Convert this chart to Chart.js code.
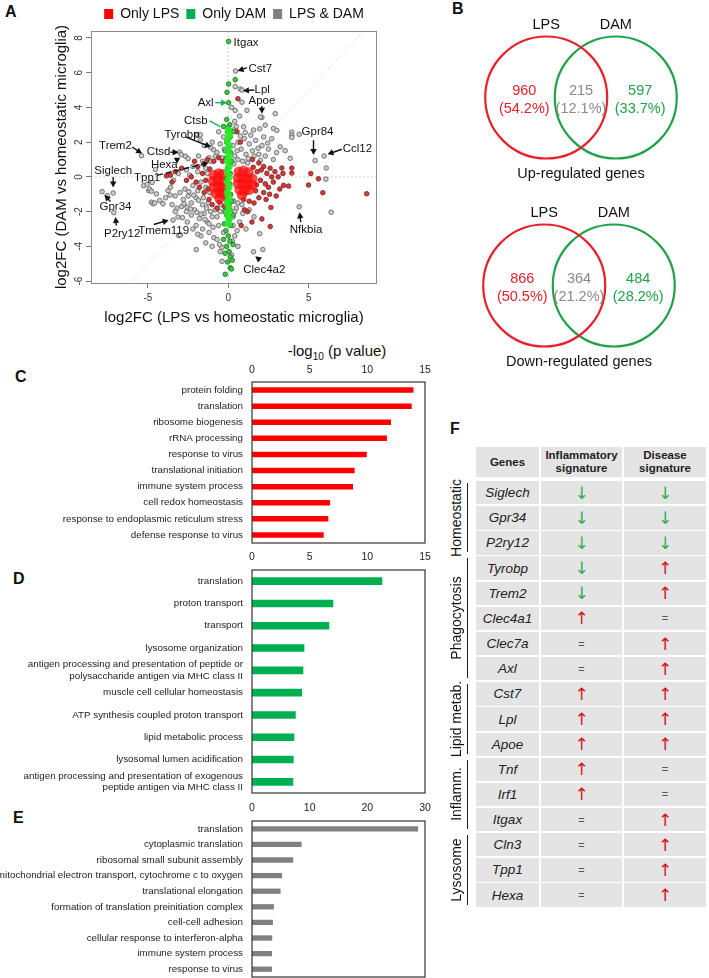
<!DOCTYPE html>
<html><head><meta charset="utf-8">
<script src="https://cdn.jsdelivr.net/npm/chart.js@4.4.0/dist/chart.umd.min.js"></script>
<style>
body{margin:0;background:#fff;width:709px;height:978px;position:relative;overflow:hidden;font-family:"Liberation Sans",Arial,sans-serif;color:#111;}
canvas{position:absolute;}
.plabel{position:absolute;font-weight:bold;font-size:16px;line-height:16px;}
.cell{position:absolute;background:#e4e4e4;display:flex;align-items:center;justify-content:center;text-align:center;}
.grp{position:absolute;font-size:14px;white-space:nowrap;transform:translate(-50%,-50%) rotate(-90deg);}
.gline{position:absolute;width:1.5px;background:#222;}
</style></head><body>
<div class="plabel" style="left:5px;top:4px">A</div>
<div class="plabel" style="left:452px;top:1px">B</div>
<div class="plabel" style="left:15px;top:369px">C</div>
<div class="plabel" style="left:13px;top:571px">D</div>
<div class="plabel" style="left:13px;top:810px">E</div>
<div class="plabel" style="left:450px;top:421px">F</div>
<div style="position:absolute;left:237px;top:342px;width:200px;text-align:center;font-size:15px;">-log<sub style="font-size:10px">10</sub> (p value)</div>

<canvas id="cA" width="470" height="330" style="left:0;top:0;width:470px;height:330px"></canvas>
<canvas id="cVup" width="242" height="170" style="left:460px;top:15px;width:242px;height:170px"></canvas>
<canvas id="cVdn" width="242" height="170" style="left:458px;top:203px;width:242px;height:170px"></canvas>
<canvas id="cC" width="440" height="210" style="left:0;top:340px;width:440px;height:210px"></canvas>
<canvas id="cD" width="440" height="250" style="left:0;top:548px;width:440px;height:250px"></canvas>
<canvas id="cE" width="440" height="182" style="left:0;top:796px;width:440px;height:182px"></canvas>
<div id="tableF"></div>

<script>
// ---------------- DATA ----------------
// Panel A: log2FC (LPS) , log2FC (DAM)
const lpsAndDamPts = [
[-7.85,-0.85],[-7.53,-1.08],[-7.16,-0.93],[-7.12,-2.06],
[-5.4,1.22],[-4.53,0.43],[-5.26,-0.51],[-5.05,-0.42],[-4.74,-0.32],[-4.95,-0.79],[-4.89,-0.7],[-4.78,-0.83],[-4.47,-0.98],[-4.78,-1.46],[-4.68,-1.55],[-4.58,-1.5],[-4.27,-1.36],[-4.06,-1.55],[-3.75,-0.79],[-3.9,-1.2],[-3.62,-1.05],[-3.44,-2.49],[-3.13,-2.31],[-3.09,-3.38],[-2.98,-3.34],[-1.99,-4.19],
[-3.02,1.42],[-2.92,1.28],[-2.67,1.19],[-2.5,1.05],[-1.94,2.44],[-1.74,2.42],[-1.74,2.13],[-1.5,1.8],[-0.91,1.56],[-1.53,0.72],[-1.2,1.1],[-2.2,0.6],[-2.6,0.4],[-3.1,0.2],[-3.4,-0.2],[-3.6,-0.6],[-3.3,-1.1],[-3.0,-0.9],[-2.8,-1.3],[-2.5,-1.1],[-2.3,-1.5],[-2.0,-1.2],[-3.5,-1.6],[-3.2,-1.8],[-2.9,-1.7],[-2.6,-2.0],[-2.3,-2.2],[-2.1,-1.9],[-1.8,-2.4],[-1.5,-2.1],[-1.3,-2.6],[-1.0,-2.3],[-2.0,-2.8],[-1.6,-3.0],[-1.2,-3.2],[-0.9,-3.5],[-1.7,-3.4],[-1.4,-3.8],[-0.6,-2.8],[-0.8,-1.9],[-1.9,-0.8],[-2.2,-0.5],[-1.7,-0.3],[-2.4,0.1],[-1.9,0.3],[-1.4,0.5],[-1.1,0.9],[-0.8,1.2],[-0.5,1.9],[-0.3,2.3],[-0.6,2.6],[-1.0,2.0],[-0.39,-4.06],[-0.39,-4.86],[-0.55,-3.9],[-0.3,-3.2],
[-2.7,-0.7],[-2.45,-0.85],[-2.15,-1.05],[-1.85,-1.35],[-1.6,-1.6],[-1.35,-1.8],[-1.1,-2.0],[-2.75,-1.55],[-2.55,-1.75],[-2.35,-1.85],[-1.95,-2.05],[-1.7,-2.15],[-1.45,-2.45],[-1.2,-2.7],[-0.95,-2.9],[-0.7,-2.3],[-0.5,-2.0],[-0.45,-1.6],[-1.25,-1.5],[-1.55,-1.2],[-1.4,-0.6],[-1.15,-0.9],[-1.3,0.2],[-1.6,0.9],[-1.85,1.2],[-0.7,1.4],[-0.4,1.1],[-0.25,1.6],[-1.1,1.7],[-3.3,-2.0],[-2.85,-2.35],[-2.55,-2.6],[-2.2,-3.0],[-1.9,-3.3],[-0.7,-3.6],[-0.5,-4.3],[-1.0,-4.0],
[0.45,6.1],[0.43,5.2],[0.75,5.06],[0.85,5.0],[0.85,4.3],[1.16,3.83],[0.43,3.83],[2.09,3.42],[2.0,3.45],[2.92,3.64],[0.33,2.7],[0.95,2.89],[1.57,2.7],[2.3,2.98],[2.81,2.79],[1.95,2.77],[3.02,2.68],[3.95,2.58],[3.95,2.4],[3.95,2.27],[4.41,2.45],[5.4,0.94],[5.96,1.2],[6.09,0.51],[6.07,-0.13],[4.41,-1.72],[6.4,-2.04],[3.85,1.07],[3.54,1.51],[3.23,1.73],[1.95,-3.27],[1.57,-4.31],[2.15,-4.18],[0.6,2.0],[1.0,2.2],[1.3,1.9],[1.7,2.1],[2.1,1.8],[2.5,1.6],[2.7,2.2],[1.5,1.5],[1.9,1.3],[2.3,1.2],[0.8,1.6],[1.1,1.3],[2.8,1.0],[3.0,1.4],[0.5,-1.8],[0.9,-2.1],[1.3,-1.9],[0.7,-2.6],[1.1,-3.0],[0.4,-3.4],[0.6,-4.0],[1.6,-2.3],[0.3,-2.3],[0.2,-4.5],[0.4,3.2],[0.7,3.5],[0.2,4.0],
[0.4,1.2],[0.6,1.0],[0.9,0.9],[1.2,0.8],[0.35,0.75],[0.55,1.5],[1.4,2.4],[1.85,1.65],[2.2,2.3],[2.45,1.95],[1.25,1.05],[1.6,1.2],[2.0,0.95],[0.3,1.8],[0.75,2.35],[1.05,2.55],[0.5,2.9],[0.35,-1.4],[0.6,-1.5],[0.4,-2.0],[0.85,-1.6],[0.3,-2.8],[0.55,-3.1],[0.25,-3.7]
];
const lpsOnlyPts = [
[-3.85,0.06],[-3.6,0.1],[-3.5,-0.3],[-3.3,0.3],[-2.9,0.5],[-2.6,-0.2],[-2.3,0.0],[-2.0,-0.3],[-1.9,0.6],[-1.6,0.2],[-1.8,-0.6],[-1.5,-0.9],[-1.2,-1.3],[-1.0,-1.6],[-0.7,-1.8],[-2.1,0.9],[-1.3,1.0],[-0.9,0.9],[-1.4,-0.2],[-1.15,0.45],[-1.25,-0.7],[-0.55,-1.45],[-0.25,-1.7],[-0.35,0.9],[-0.6,1.1],
[0.6,4.5],[0.54,2.6],[0.75,2.0],
[1.5,1.0],[1.9,0.8],[2.2,0.6],[2.4,0.2],[2.6,0.5],[2.9,0.3],[3.1,0.0],[2.8,-0.3],[2.5,-0.6],[2.2,-0.9],[1.9,-1.2],[1.6,-1.5],[1.3,-1.4],[2.0,-0.2],[1.8,0.3],[3.33,0.51],[3.95,0.51],[3.95,0.22],[3.44,-0.49],[3.75,-0.53],[2.98,-1.1],[2.57,-1.0],[2.65,-1.76],[2.09,-2.42],[2.61,-2.86],[1.47,-2.6],[5.13,0.19],[5.61,-0.11],[4.99,-0.47],[5.88,-0.91],[8.61,-0.97],[1.2,-2.0],[0.8,-2.8],[1.0,-1.9],[3.4,0.2],[3.2,-0.7],[2.3,-0.4],[2.7,0.0],[1.7,-0.8],[2.05,0.4],[1.55,0.55],[1.75,-0.45],[0.95,-1.3],[2.35,-1.3]
];
const lpsOnlyDense = [
[-0.9,0.1],[-0.6,0.2],[-0.35,0.15],[-0.95,-0.25],[-0.65,-0.2],[-0.35,-0.25],[-0.9,-0.6],[-0.6,-0.55],[-0.35,-0.6],[-0.8,-0.95],[-0.5,-0.9],[-0.3,-1.0],[-0.55,-1.25],
[0.65,0.3],[0.95,0.35],[1.25,0.25],[0.6,-0.05],[0.9,-0.05],[1.2,-0.1],[1.5,-0.1],[0.6,-0.4],[0.9,-0.4],[1.2,-0.45],[1.5,-0.45],[0.7,-0.75],[1.0,-0.8],[1.3,-0.75],[0.85,-1.05]
];
const damOnlyPts = [
[0.02,7.8],[0.43,5.6],[0.02,5.35],[-0.08,4.87],[0.02,4.27],[-0.1,3.3],[0.1,3.0],[0.0,2.85],[-0.05,2.6],[0.12,2.3],[-0.1,2.0],[0.05,1.7],[0.15,1.4],[-0.12,1.1],[0.08,0.8],[-0.05,0.5],[0.12,0.2],[-0.1,-0.1],[0.1,-0.4],[-0.05,-0.7],[0.15,-1.0],[-0.12,-1.3],[0.05,-1.6],[0.1,-1.9],[-0.1,-2.2],[0.05,-2.5],[0.15,-2.8],[-0.15,-3.1],[0.0,-3.4],[0.1,-3.7],[-0.1,-4.0],[0.05,-4.3],[0.12,-4.6],[-0.05,-4.9],[0.12,-5.23],[-0.19,-5.61],[-0.3,-3.6],[0.3,-3.9],[-0.25,-2.7],[0.3,-2.2],[-0.3,2.9],[0.3,2.6],[0.2,-5.3],[-0.2,-4.4],[0.25,-4.8],[-0.22,-2.0],[0.22,-1.4],[-0.2,1.5],[0.22,0.9]
];
const damOnlyDense = [
[0.0,2.7],[0.05,2.4],[-0.05,2.1],[0.05,1.8],[-0.05,1.5],[0.05,1.2],[-0.05,0.9],[0.05,0.6],[-0.05,0.3],[0.05,0.0],[-0.05,-0.3],[0.05,-0.6],[-0.05,-0.9],[0.05,-1.2],[-0.05,-1.5],[0.05,-1.8],[-0.05,-2.1],[0.05,-2.4],[0.0,-2.7]
];
const seriesNames = ['Only LPS','Only DAM','LPS & DAM'];
const xTicksA = [-5,0,5];
const yTicksA = [-6,-4,-2,0,2,4,6,8];

// Panel B
const vennSets = ['LPS','DAM'];
const vennUpCounts = [960,215,597];
const vennDownCounts = [866,364,484];

// Panels C, D, E
const goLpsTerms = ['protein folding','translation','ribosome biogenesis','rRNA processing','response to virus','translational initiation','immune system process','cell redox homeostasis','response to endoplasmic reticulum stress','defense response to virus'];
const goLpsValues = [14.0,13.85,12.05,11.7,9.95,8.9,8.76,6.77,6.62,6.22];
const goDamTerms = ['translation','proton transport','transport','lysosome organization',['antigen processing and presentation of peptide or','polysaccharide antigen via MHC class II'],'muscle cell cellular homeostasis','ATP synthesis coupled proton transport','lipid metabolic process','lysosomal lumen acidification',['antigen processing and presentation of exogenous','peptide antigen via MHC class II']];
const goDamValues = [11.3,7.05,6.7,4.54,4.45,4.34,3.79,3.67,3.61,3.58];
const goBothTerms = ['translation','cytoplasmic translation','ribosomal small subunit assembly','mitochondrial electron transport, cytochrome c to oxygen','translational elongation','formation of translation preinitiation complex','cell-cell adhesion','cellular response to interferon-alpha','immune system process','response to virus'];
const goBothValues = [28.8,8.6,7.15,5.2,4.96,3.8,3.63,3.51,3.46,3.46];
const goLpsTicks = [0,5,10,15];
const goDamTicks = [0,5,10,15];
const goBothTicks = [0,10,20,30];

// Panel F
const geneNames = ['Siglech','Gpr34','P2ry12','Tyrobp','Trem2','Clec4a1','Clec7a','Axl','Cst7','Lpl','Apoe','Tnf','Irf1','Itgax','Cln3','Tpp1','Hexa'];
const inflammatorySig = ['down','down','down','down','down','up','=','=','up','up','up','up','up','=','=','=','='];
const diseaseSig = ['down','down','down','up','up','=','up','up','up','up','up','=','=','up','up','up','up'];
const geneGroups = ['Homeostatic','Phagocytosis','Lipid metab.','Inflamm.','Lysosome'];
const geneGroupSizes = [3,5,3,3,3];
const tableHeaders = ['Genes','Inflammatory<br>signature','Disease<br>signature'];

// ---------------- STYLE / LAYOUT ----------------
const FONT = '"Liberation Sans", Arial, sans-serif';
Chart.defaults.font.family = FONT;
Chart.defaults.animation = false;
const toXY = a => a.map(p => ({x:p[0], y:p[1]}));
const legendColors = ['#ff0000','#00b050','#808080'];
const noPad = s => { s.paddingTop = 0; s.paddingBottom = 0; };

const annotations = [
 {t:'Itgax', x:0.33, y:7.74, al:'left'},
 {t:'Cst7', x:1.26, y:6.23, al:'left', a:[1.16,6.29,0.58,6.1]},
 {t:'Lpl', x:1.63, y:5.0, al:'left', a:[1.61,5.0,0.91,4.96]},
 {t:'Apoe', x:2.09, y:4.4, a:[2.09,4.08,2.09,3.64]},
 {t:'Axl', x:-0.91, y:4.25, al:'right', a:[-0.81,4.27,-0.08,4.27], c:'#1fae5a'},
 {t:'Ctsb', x:-1.29, y:3.23, al:'right', a:[-1.16,3.23,-0.5,2.89], c:'#1fae5a', nohead:true},
 {t:'Tyrobp', x:-2.88, y:2.41, a:[-2.67,2.3,-1.07,1.72]},
 {t:'Trem2', x:-7.02, y:1.76, a:[-5.98,1.72,-5.36,1.34]},
 {t:'Ctsd', x:-4.33, y:1.43, a:[-3.6,1.42,-3.09,1.42]},
 {t:'Hexa', x:-3.98, y:0.71, a:[-3.19,1.08,-3.19,0.76]},
 {t:'Tpp1', x:-5.05, y:-0.04, a:[-4.43,0.09,-1.22,0.81], dash:true},
 {t:'Siglech', x:-7.16, y:0.34, a:[-7.16,0.0,-7.16,-0.61]},
 {t:'Gpr34', x:-7.02, y:-1.74, a:[-7.33,-1.42,-7.7,-1.04]},
 {t:'P2ry12', x:-6.6, y:-3.29, a:[-6.96,-2.8,-7.02,-2.31]},
 {t:'Tmem119', x:-4.02, y:-3.12, a:[-4.64,-2.74,-3.71,-2.49]},
 {t:'Clec4a2', x:2.24, y:-5.33, a:[1.98,-4.8,1.68,-4.57]},
 {t:'Nfkbia', x:4.84, y:-3.04, a:[4.51,-2.61,4.43,-2.04]},
 {t:'Gpr84', x:5.55, y:2.58, a:[5.3,2.11,5.3,1.26]},
 {t:'Ccl12', x:7.12, y:1.64, al:'left', a:[7.06,1.59,6.17,1.3]}
];

function arrowHead(ctx, x1,y1,x2,y2, len, w){
  const ang = Math.atan2(y2-y1, x2-x1);
  ctx.beginPath();
  ctx.moveTo(x2,y2);
  ctx.lineTo(x2 - len*Math.cos(ang) + w*Math.sin(ang), y2 - len*Math.sin(ang) - w*Math.cos(ang));
  ctx.lineTo(x2 - len*Math.cos(ang) - w*Math.sin(ang), y2 - len*Math.sin(ang) + w*Math.cos(ang));
  ctx.closePath(); ctx.fill();
}

const scatterDeco = {
  id:'scatterDeco',
  beforeDatasetsDraw(chart){
    const {ctx, chartArea:a, scales:{x,y}} = chart;
    ctx.save();
    ctx.beginPath(); ctx.rect(a.left,a.top,a.right-a.left,a.bottom-a.top); ctx.clip();
    ctx.strokeStyle = '#d0d0d0'; ctx.lineWidth = 1; ctx.setLineDash([2,2]);
    ctx.beginPath(); ctx.moveTo(x.getPixelForValue(0), a.top); ctx.lineTo(x.getPixelForValue(0), a.bottom); ctx.stroke();
    ctx.beginPath(); ctx.moveTo(a.left, y.getPixelForValue(0)); ctx.lineTo(a.right, y.getPixelForValue(0)); ctx.stroke();
    ctx.strokeStyle = '#dedede';
    ctx.beginPath(); ctx.moveTo(x.getPixelForValue(-9), y.getPixelForValue(-9)); ctx.lineTo(x.getPixelForValue(10), y.getPixelForValue(10)); ctx.stroke();
    ctx.restore();
  },
  afterDraw(chart){
    const {ctx, chartArea:a, scales:{x,y}} = chart;
    ctx.save();
    ctx.strokeStyle = '#8a8a8a'; ctx.lineWidth = 1;
    ctx.strokeRect(a.left+0.5, a.top+0.5, a.right-a.left-1, a.bottom-a.top);
    ctx.fillStyle = '#333'; ctx.font = '10px '+FONT; ctx.textAlign='center'; ctx.textBaseline='middle';
    y.ticks.forEach(t => {
      ctx.save(); ctx.translate(79, y.getPixelForValue(t.value)); ctx.rotate(-Math.PI/2);
      ctx.fillText(String(t.value), 0, 0); ctx.restore();
    });
    ctx.font = '11.5px '+FONT; ctx.textBaseline='middle';
    annotations.forEach(n => {
      const col = n.c || '#111';
      ctx.fillStyle = '#111';
      ctx.textAlign = n.al || 'center';
      ctx.fillText(n.t, x.getPixelForValue(n.x), y.getPixelForValue(n.y));
      if (n.a) {
        const x1=x.getPixelForValue(n.a[0]), y1=y.getPixelForValue(n.a[1]), x2=x.getPixelForValue(n.a[2]), y2=y.getPixelForValue(n.a[3]);
        ctx.strokeStyle = col; ctx.fillStyle = col; ctx.lineWidth = 1.4;
        ctx.setLineDash(n.dash ? [6,3] : []);
        const ang = Math.atan2(y2-y1,x2-x1);
        const ex = n.nohead ? x2 : x2 - 4*Math.cos(ang), ey = n.nohead ? y2 : y2 - 4*Math.sin(ang);
        ctx.beginPath(); ctx.moveTo(x1,y1); ctx.lineTo(ex,ey); ctx.stroke();
        ctx.setLineDash([]);
        if (!n.nohead) arrowHead(ctx, x1,y1,x2,y2, 6, 3.2);
      }
    });
    ctx.restore();
  }
};

new Chart(document.getElementById('cA'), {
  type:'scatter',
  data:{datasets:[
    {label:seriesNames[2], data:toXY(lpsAndDamPts), backgroundColor:'#cccccc', borderColor:'#5a5a5a', borderWidth:0.8, pointRadius:2.3, order:5},
    {label:seriesNames[0], data:toXY(lpsOnlyPts), backgroundColor:'#d23a3a', borderColor:'#7a1a1a', borderWidth:0.8, pointRadius:2.3, order:4},
    {label:seriesNames[0]+' (dense)', data:toXY(lpsOnlyDense), backgroundColor:'rgba(255,15,15,0.75)', borderWidth:0, pointRadius:5.2, order:3},
    {label:seriesNames[1], data:toXY(damOnlyPts), backgroundColor:'#3ccc3c', borderColor:'#1b6b1b', borderWidth:0.8, pointRadius:2.3, order:2},
    {label:seriesNames[1]+' (dense)', data:toXY(damOnlyDense), backgroundColor:'rgba(40,235,40,0.9)', borderWidth:0, pointRadius:3.6, order:1}
  ]},
  options:{
    responsive:false, maintainAspectRatio:false,
    layout:{padding:{left:0,right:93,top:0,bottom:0}},
    plugins:{
      tooltip:{enabled:false},
      legend:{position:'top', fullSize:false,
        labels:{boxWidth:9, boxHeight:10, padding:7, font:{size:14}, color:'#111',
          generateLabels:() => seriesNames.map((s,i)=>({text:s, fillStyle:legendColors[i], strokeStyle:legendColors[i], lineWidth:0, hidden:false, fontColor:'#111'}))}}
    },
    scales:{
      x:{type:'linear', min:-8.54, max:9.25,
        afterBuildTicks:s=>{s.ticks = xTicksA.map(v=>({value:v}));},
        afterFit:s=>{s.height=47;},
        grid:{drawOnChartArea:false, tickLength:5, color:'#777'}, border:{display:false},
        ticks:{font:{size:10}, color:'#333', padding:4},
        title:{display:true, text:'log2FC (LPS vs homeostatic microglia)', font:{size:15}, color:'#111', padding:{top:0,bottom:3}}},
      y:{type:'linear', min:-6.11, max:8.4,
        afterBuildTicks:s=>{s.ticks = yTicksA.map(v=>({value:v}));},
        afterFit:s=>{s.width=91; noPad(s);},
        grid:{drawOnChartArea:false, tickLength:5, color:'#777'}, border:{display:false},
        ticks:{font:{size:10}, color:'rgba(0,0,0,0)', padding:3},
        title:{display:true, text:'log2FC (DAM vs homeostatic microglia)', font:{size:15}, color:'#111', padding:{top:53,bottom:0}}}
    }
  },
  plugins:[scatterDeco]
});

// ---------- Venn ----------
const vennLayout = {half:0.57, labelY:1.19, numX:[-0.93,0,0.97], numY:0.107, pctY:-0.19, captionY:-1.254};
const vennColors = ['#e8202a','#22a14b'];
const vennTextColors = ['#e8202a','#8a8a8a','#22a14b'];
function vennChart(id, counts, caption){
  const total = counts.reduce((a,b)=>a+b,0);
  const rpx = c => { const s=c.chart.scales.x; return s.getPixelForValue(1)-s.getPixelForValue(0); };
  new Chart(document.getElementById(id), {
    type:'scatter',
    data:{datasets: vennSets.map((s,i)=>({label:s, data:[{x:(i?1:-1)*vennLayout.half, y:0}], backgroundColor:'rgba(0,0,0,0)', borderColor:vennColors[i], borderWidth:2.2, pointRadius:rpx}))},
    options:{responsive:false, maintainAspectRatio:false, layout:{padding:0},
      plugins:{legend:{display:false}, tooltip:{enabled:false}},
      scales:{x:{display:false, min:-1.9836, max:1.9836}, y:{display:false, min:-1.4344, max:1.3525}}},
    plugins:[{id:'vennText', afterDraw(chart){
      const {ctx, scales:{x,y}} = chart;
      ctx.save(); ctx.font='14.5px '+FONT; ctx.textAlign='center'; ctx.textBaseline='middle';
      ctx.fillStyle='#111';
      vennSets.forEach((s,i)=>ctx.fillText(s, x.getPixelForValue((i?1:-1)*vennLayout.half), y.getPixelForValue(vennLayout.labelY)));
      counts.forEach((c,i)=>{
        ctx.fillStyle = vennTextColors[i];
        ctx.fillText(String(c), x.getPixelForValue(vennLayout.numX[i]), y.getPixelForValue(vennLayout.numY));
        ctx.fillText('('+(c/total*100).toFixed(1)+'%)', x.getPixelForValue(vennLayout.numX[i]), y.getPixelForValue(vennLayout.pctY));
      });
      ctx.fillStyle='#111';
      ctx.fillText(caption, x.getPixelForValue(0), y.getPixelForValue(vennLayout.captionY));
      ctx.restore();
    }}]
  });
}
vennChart('cVup', vennUpCounts, 'Up-regulated genes');
vennChart('cVdn', vennDownCounts, 'Down-regulated genes');

// ---------- GO bar charts ----------
const framePlugin = {id:'frame', afterDraw(chart){
  const {ctx, chartArea:a} = chart; ctx.save(); ctx.strokeStyle='#333'; ctx.lineWidth=1.2;
  ctx.strokeRect(a.left, a.top, a.right-a.left, a.bottom-a.top); ctx.restore();
}};
function goChart(id, terms, values, ticks, color, axisH, padBottom, tickPad, labelSize){
  new Chart(document.getElementById(id), {
    type:'bar',
    data:{labels:terms, datasets:[{data:values, backgroundColor:color, barPercentage:0.34, categoryPercentage:1}]},
    options:{indexAxis:'y', responsive:false, maintainAspectRatio:false,
      layout:{padding:{left:0,right:15,top:0,bottom:padBottom}},
      plugins:{legend:{display:false}, tooltip:{enabled:false}},
      scales:{
        x:{position:'top', min:ticks[0], max:ticks[ticks.length-1],
          afterBuildTicks:s=>{s.ticks = ticks.map(v=>({value:v}));},
          afterFit:s=>{s.height=axisH;},
          grid:{display:false, drawTicks:false}, border:{display:false},
          ticks:{font:{size:10.5}, color:'#222', padding:tickPad}},
        y:{afterFit:s=>{s.width=252; noPad(s);},
          grid:{display:false, drawTicks:false}, border:{display:false},
          ticks:{font:{size:labelSize, lineHeight:1.15}, color:'#222', padding:9, autoSkip:false}}
      }},
    plugins:[framePlugin]
  });
}
goChart('cC', goLpsTerms, goLpsValues, goLpsTicks, '#ff0000', 42, 7, 6, 9.8);
goChart('cD', goDamTerms, goDamValues, goDamTicks, '#00b050', 22, 5, 7, 9.8);
goChart('cE', goBothTerms, goBothValues, goBothTicks, '#808080', 25, 1, 7, 9.8);

// ---------- Table F ----------
(function(){
  const root = document.getElementById('tableF');
  const cols = [[476,63],[541,81],[624,82]];
  const headTop = 447, headH = 30, rowTop = 481, pitch = 25.15, rowH = 23.4;
  const add = (html, l, t, w, h, style) => { const d=document.createElement('div'); d.className='cell'; d.style.cssText=`left:${l}px;top:${t}px;width:${w}px;height:${h}px;`+(style||''); d.innerHTML=html; root.appendChild(d); };
  tableHeaders.forEach((h,i)=>add(h, cols[i][0], headTop, cols[i][1], headH, 'font-weight:bold;font-size:11.5px;line-height:13px;color:#222;'));
  const sym = v => v==='up' ? '<span style="color:#d7191c;font-size:17px;font-family:\'DejaVu Sans\'">↑</span>' : v==='down' ? '<span style="color:#2eb04f;font-size:17px;font-family:\'DejaVu Sans\'">↓</span>' : '<span style="color:#555;font-size:11px">=</span>';
  geneNames.forEach((g,r)=>{
    const t = rowTop + r*pitch;
    add(g, cols[0][0], t, cols[0][1], rowH, 'font-style:italic;font-size:13.5px;color:#222;');
    add(sym(inflammatorySig[r]), cols[1][0], t, cols[1][1], rowH);
    add(sym(diseaseSig[r]), cols[2][0], t, cols[2][1], rowH);
  });
  let s = 0;
  geneGroups.forEach((name,i)=>{
    const n = geneGroupSizes[i];
    const y1 = rowTop + s*pitch + 2, y2 = rowTop + (s+n)*pitch - 4;
    const l = document.createElement('div'); l.className='gline'; l.style.cssText=`left:466.5px;top:${y1}px;height:${y2-y1}px;`; root.appendChild(l);
    const tx = document.createElement('div'); tx.className='grp'; tx.style.cssText=`left:456px;top:${(y1+y2)/2}px;`; tx.textContent=name; root.appendChild(tx);
    s += n;
  });
})();
</script>
</body></html>
